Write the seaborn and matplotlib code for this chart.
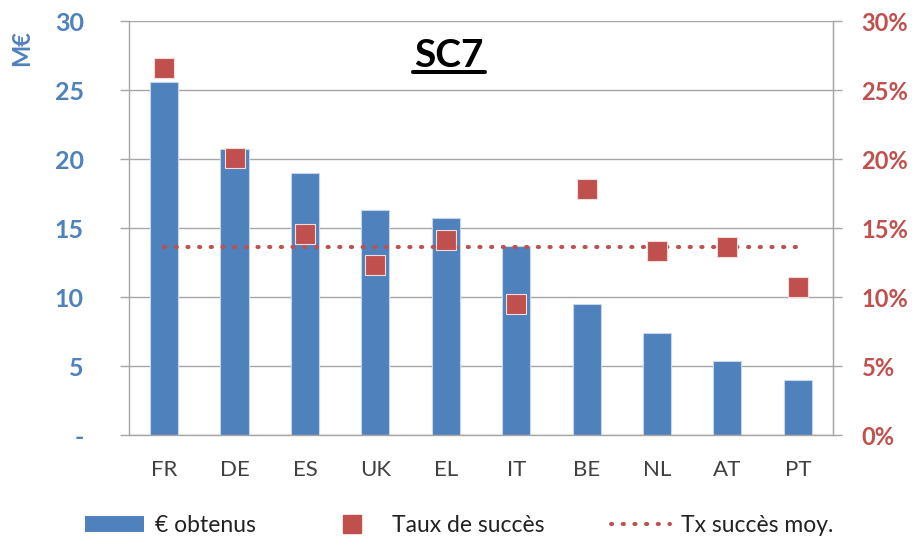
import numpy as np
import matplotlib
matplotlib.use('Agg')
import matplotlib.pyplot as plt
from matplotlib.ticker import FixedLocator, FuncFormatter
from matplotlib.lines import Line2D
from matplotlib.patches import Patch
import seaborn as sns

sns.set_style('white')
plt.rcParams['font.family'] = ['Lato', 'DejaVu Sans']

countries = ['FR', 'DE', 'ES', 'UK', 'EL', 'IT', 'BE', 'NL', 'AT', 'PT']
obtenus = [25.6, 20.7, 19.0, 16.3, 15.7, 13.7, 9.5, 7.4, 5.4, 4.0]  # M€
taux = [26.6, 20.1, 14.6, 12.3, 14.1, 9.5, 17.8, 13.3, 13.6, 10.7]  # %
taux_moy = 13.6

blue = '#4F81BD'
red = '#C0504D'
grid = '#A6A6A6'
txt = '#404040'
dots = (0, (0.3, 2.6))

fig = plt.figure(figsize=(9.16, 5.40), dpi=100)
ax = fig.add_axes([0.1408, 0.1944, 0.7686, 0.7667])

sns.barplot(x=countries, y=obtenus, ax=ax, color=blue, saturation=1, width=0.4,
            edgecolor='#C6D6EA', linewidth=0.8, zorder=2)
ax.set_xlim(-0.5, len(countries) - 0.5)
ax.set_ylim(0, 30)
ax.set_yticks(range(0, 31, 5))
ax.yaxis.set_major_formatter(FuncFormatter(lambda v, p: '-' if v == 0 else '%d' % v))
ax.grid(axis='y', color=grid, lw=1, zorder=0)
ax.set_axisbelow(True)
ax.tick_params(axis='y', colors=grid, labelcolor=blue, labelsize=18, length=6.5, width=1, pad=26)
ax.set_xlabel('')
ax.set_ylabel('')
ax.xaxis.set_minor_locator(FixedLocator(np.arange(-0.5, len(countries), 1)))
ax.tick_params(axis='x', which='major', length=0, labelsize=16, labelcolor=txt, pad=18)
ax.tick_params(axis='x', which='minor', length=7, width=1, color=grid)
for s in ['left', 'right', 'bottom']:
    ax.spines[s].set_color(grid)
    ax.spines[s].set_linewidth(1)
ax.spines['top'].set_visible(False)
for lab in ax.get_yticklabels():
    lab.set_fontweight('bold')

ax2 = ax.twinx()
ax2.set_ylim(0, 30)
ax2.set_yticks(range(0, 31, 5))
ax2.yaxis.set_major_formatter(FuncFormatter(lambda v, p: '%d%%' % v))
ax2.tick_params(axis='y', colors=grid, labelcolor=red, labelsize=17, length=6.5, width=1, pad=14)
for lab in ax2.get_yticklabels():
    lab.set_fontweight('bold')
for s in ax2.spines.values():
    s.set_visible(False)
ax2.spines['right'].set_visible(True)
ax2.spines['right'].set_color(grid)

ax2.plot(range(len(countries)), [taux_moy] * len(countries), color=red, lw=2.9,
         ls=dots, dash_capstyle='round', zorder=3)
sns.scatterplot(x=range(len(countries)), y=taux, ax=ax2, marker='s', s=195, color=red,
                edgecolor='#F2DCDB', linewidth=0.8, zorder=4, legend=False)
ax2.set_ylabel('')

fig.text(0.024, 0.911, 'M€', rotation=90, color=blue, fontsize=17, fontweight='bold',
         ha='center', va='center')
fig.text(0.49, 0.897, 'SC7', fontsize=28, fontweight='bold', color='black',
         ha='center', va='center')
fig.add_artist(Line2D([0.451, 0.529], [0.866, 0.866], color='black', lw=2.9))

handles = [Patch(facecolor=blue, edgecolor='none'),
           Line2D([], [], marker='s', ls='none', color=red, markersize=13),
           Line2D([], [], color=red, lw=2.9, ls=dots, dash_capstyle='round')]
labels = ['€ obtenus', 'Taux de succès', 'Tx succès moy.']
fig.legend(handles, labels, loc='center', bbox_to_anchor=(0.501, 0.027), ncol=3,
           frameon=False, fontsize=16.5, handlelength=2.6, columnspacing=2.9,
           handletextpad=0.45, labelcolor='#222222')

fig.savefig('out.png', dpi=100)
